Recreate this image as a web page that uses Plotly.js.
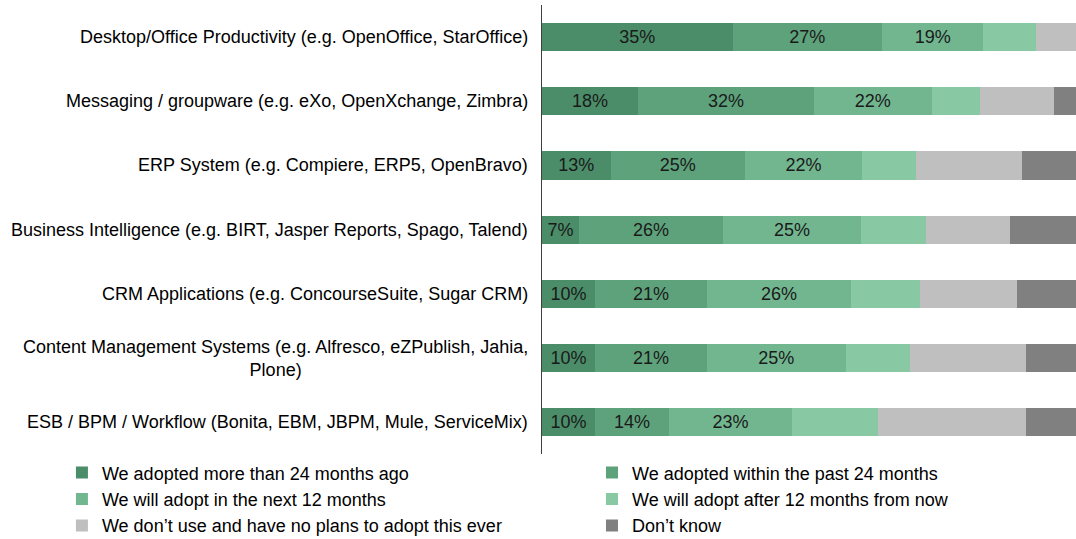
<!DOCTYPE html>
<html>
<head>
<meta charset="utf-8">
<script src="https://cdn.plot.ly/plotly-3.0.1.min.js"></script>
<style>
  html, body { margin: 0; padding: 0; background: #fff; overflow: hidden; }
  #chart { width: 1076px; height: 539px; }
</style>
</head>
<body>
<div id="chart"></div>
<script>
const categories = [
  "Desktop/Office Productivity (e.g. OpenOffice, StarOffice)",
  "Messaging / groupware (e.g. eXo, OpenXchange, Zimbra)",
  "ERP System (e.g. Compiere, ERP5, OpenBravo)",
  "Business Intelligence (e.g. BIRT, Jasper Reports, Spago, Talend)",
  "CRM Applications (e.g. ConcourseSuite, Sugar CRM)",
  "Content Management Systems (e.g. Alfresco, eZPublish, Jahia,<br>Plone)",
  "ESB / BPM / Workflow (Bonita, EBM, JBPM, Mule, ServiceMix)"
];

const seriesNames = [
  "We adopted more than 24 months ago",
  "We adopted within the past 24 months",
  "We will adopt in the next 12 months",
  "We will adopt after 12 months from now",
  "We don\u2019t use and have no plans to adopt this ever",
  "Don\u2019t know"
];

// percent of respondents
const adoptedOver24 = [35.0, 17.6, 12.6, 6.8, 9.7, 9.7, 9.7];
const adoptedWithin24 = [27.4, 32.3, 24.6, 26.4, 20.6, 20.6, 13.6];
const adoptNext12 = [18.6, 21.6, 21.6, 25.4, 26.4, 25.4, 22.6];
const adoptAfter12 = [9.7, 8.8, 9.8, 11.8, 12.7, 11.8, 15.8];
const noPlans = [8.0, 13.6, 19.4, 15.4, 17.8, 21.3, 27.2];
const dontKnow = [1.3, 6.1, 12.0, 14.2, 12.8, 11.2, 11.1];

const seriesValues = [adoptedOver24, adoptedWithin24, adoptNext12, adoptAfter12, noPlans, dontKnow];
const colors = ["#4b8d69", "#5ea27c", "#72b690", "#88c9a3", "#bfbfbf", "#808080"];
const showLabels = [true, true, true, false, false, false];

const fontFam = "Liberation Sans, Arial, sans-serif";

const data = seriesValues.map(function (vals, i) {
  return {
    type: "bar",
    orientation: "h",
    name: seriesNames[i],
    legend: i % 2 === 0 ? "legend" : "legend2",
    x: vals,
    y: categories,
    marker: { color: colors[i], line: { width: 0 } },
    texttemplate: showLabels[i] ? "%{x:.0f}%" : "",
    textposition: showLabels[i] ? "inside" : "none",
    insidetextanchor: "middle",
    constraintext: "none",
    textfont: { family: fontFam, size: 18, color: "#1a1a1a" },
    hoverinfo: "name+x"
  };
});

const labelNotes = categories.map(function (c) {
  return {
    xref: "paper",
    yref: "y",
    x: 0,
    y: c,
    xanchor: "right",
    yanchor: "middle",
    xshift: -12,
    align: "center",
    text: c,
    showarrow: false,
    font: { family: fontFam, size: 18, color: "#000" }
  };
});

const legendBase = {
  orientation: "v",
  xref: "paper",
  yref: "container",
  xanchor: "left",
  y: 0.157,
  yanchor: "top",
  traceorder: "normal",
  itemwidth: 30,
  bgcolor: "rgba(0,0,0,0)",
  font: { family: fontFam, size: 18, color: "#000" }
};

const layout = {
  width: 1076,
  height: 539,
  margin: { l: 542, r: 0, t: 5, b: 84 },
  barmode: "stack",
  bargap: 0.56,
  paper_bgcolor: "#fff",
  plot_bgcolor: "#fff",
  showlegend: true,
  font: { family: fontFam, size: 18, color: "#000" },
  xaxis: {
    range: [0, 98],
    showgrid: false,
    zeroline: false,
    showticklabels: false,
    showline: false,
    fixedrange: true
  },
  yaxis: {
    autorange: "reversed",
    showticklabels: false,
    showgrid: false,
    zeroline: false,
    showline: true,
    linecolor: "#404040",
    linewidth: 1.5,
    ticks: "",
    fixedrange: true
  },
  legend: Object.assign({}, legendBase, { x: -0.899 }),
  legend2: Object.assign({}, legendBase, { x: 0.0936 }),
  annotations: labelNotes
};

Plotly.newPlot("chart", data, layout, { displayModeBar: false, staticPlot: true });
</script>
</body>
</html>
